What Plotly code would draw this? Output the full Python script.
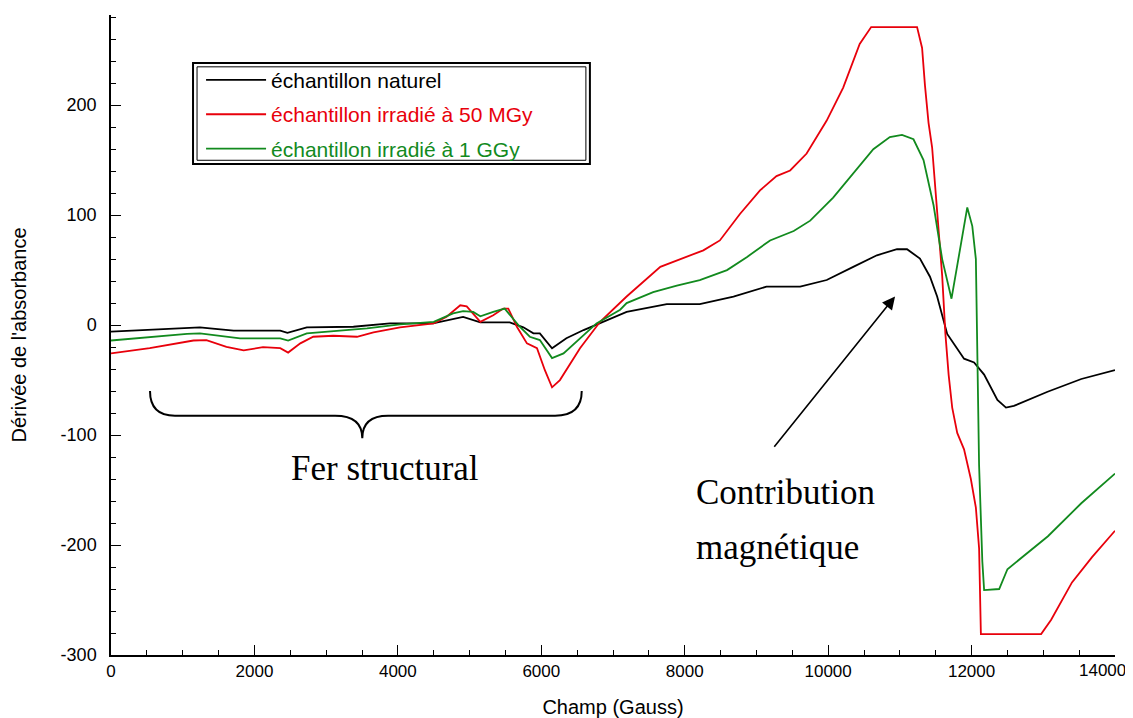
import plotly.graph_objects as go

# --- data ---
x_nat = [0, 680, 1240, 1380, 1710, 2360, 2460, 2730, 3380, 3890, 4490, 4910, 5150, 5560, 5750, 5890,
         5980, 6150, 6350, 6590, 6820, 7190, 7750, 8210, 8680, 9140, 9610, 9980, 10350, 10680, 10960,
         11100, 11280, 11420, 11520, 11590, 11660, 11895, 12035, 12175, 12360, 12480, 12590, 13060,
         13530, 14000]
y_nat = [-6, -4, -2, -3, -5, -5, -7, -2, -1.5, 1.5, 1.5, 7.5, 2.5, 2.5, -2, -7.5,
         -7.5, -21, -12, -4.5, 2, 12, 19, 19, 26, 35, 35, 41, 53, 63.5, 69,
         69, 60.5, 44, 26, 10, -8, -30.5, -34, -45, -68, -75, -73.5, -60.6,
         -49, -41]

x_50mgy = [0, 540, 1150, 1330, 1610, 1850, 2120, 2360, 2470, 2640, 2820, 3100, 3430, 3660, 4030,
           4500, 4680, 4870, 4960, 5150, 5330, 5470, 5540, 5660, 5800, 5940, 6050, 6150, 6260,
           6540, 6820, 7100, 7190, 7660, 7890, 8260, 8490, 8770, 9050, 9280, 9470, 9700, 9980,
           10210, 10440, 10600, 11240, 11310, 11350, 11400, 11450, 11490, 11545, 11590, 11635,
           11680, 11730, 11800, 11895, 11990, 12060, 12105, 12130, 12970, 13110, 13400, 13680, 14000]
y_50mgy = [-25.7, -21, -14, -13.6, -19.7, -23, -20, -21, -25, -16.6, -10.6, -9.7, -10.6, -6.7, -2,
           1.5, 7.6, 18, 17, 3, 9, 15, 15, -1.5, -16.6, -21, -41, -56.6, -50,
           -21, 3, 21, 26, 53, 59, 68, 77, 101, 122.5, 135.5, 140.6, 156, 186,
           216, 255.6, 271, 271, 252, 218, 184, 161.5, 128, 90, 45, -8,
           -45, -75, -98, -113, -140, -166, -203, -281, -281, -268, -234, -211, -187]

x_1ggy = [0, 540, 1060, 1240, 1800, 2360, 2470, 2730, 3100, 3570, 4030, 4500, 4770, 4910, 5050,
          5150, 5330, 5490, 5700, 5840, 5980, 6150, 6310, 6540, 6770, 7100, 7190, 7560, 7890, 8210,
          8590, 8870, 9190, 9520, 9750, 10070, 10350, 10630, 10860, 11030, 11190, 11330, 11470,
          11590, 11720, 11850, 11940, 12010, 12060, 12105, 12150, 12175, 12385, 12500, 13065,
          13530, 14000]
y_1ggy = [-14, -10.6, -8, -7.6, -12, -12, -14, -7.6, -5.4, -3, 0.6, 3, 10.6, 12.7, 12,
          8, 12, 15, -1.5, -10.6, -13.6, -30, -25.7, -12, 1.5, 14, 20, 30, 36, 41,
          50, 62, 77, 85.6, 95, 116, 137.6, 160, 171, 173, 169, 150, 109,
          60, 24, 75, 107, 90, 60, -128, -215, -241, -240, -222, -192,
          -162, -135]

names = ["échantillon naturel", "échantillon irradié à 50 MGy", "échantillon irradié à 1 GGy"]
colors = ["#000000", "#e8000b", "#128a1e"]

x_ticks = [0, 2000, 4000, 6000, 8000, 10000, 12000, 14000]
x_ticktext = ["0", "2000", "4000", "6000", "8000", "10000", "12000", ""]
x_last_label = "14000"   # drawn as annotation so it stays inside the page, as in the reference
y_ticks = [-300, -200, -100, 0, 100, 200]
y_ticktext = ["-300", "-200", "-100", "0", "100", "200"]

fig = go.Figure()
for xs, ys, nm, c in [(x_nat, y_nat, names[0], colors[0]),
                      (x_50mgy, y_50mgy, names[1], colors[1]),
                      (x_1ggy, y_1ggy, names[2], colors[2])]:
    fig.add_trace(go.Scatter(
        x=xs, y=ys, mode="lines", line=dict(color=c, width=1.8),
        name=f"<span style='color:{c}'>{nm}</span>", legendgroup=nm))

font_main = "Liberation Sans, Arial, sans-serif"
serif = "Liberation Serif, Times New Roman, serif"

fig.update_layout(
    width=1125, height=710,
    margin=dict(l=103, r=18, t=7, b=63),
    paper_bgcolor="white", plot_bgcolor="white",
    font=dict(family=font_main, size=17, color="black"),
    showlegend=True,
    legend=dict(x=0.0897, y=0.930, xanchor="left", yanchor="top",
                bgcolor="rgba(0,0,0,0)", borderwidth=0,
                font=dict(size=21, family=font_main),
                tracegroupgap=4, traceorder="grouped", itemwidth=60),
    xaxis=dict(range=[0, 14000], tickvals=x_ticks, ticktext=x_ticktext, ticks="inside", ticklen=10,
               tickcolor="black", showline=True, linecolor="black", linewidth=1.5,
               showgrid=False, zeroline=False, automargin=False, ticklabeloverflow="allow",
               minor=dict(dtick=500, ticks="inside", ticklen=5, tickcolor="black", showgrid=False),
               title=dict(text="Champ (Gauss)", font=dict(size=20), standoff=20)),
    yaxis=dict(range=[-300, 282], tickvals=y_ticks, ticktext=y_ticktext, ticks="inside", ticklen=10,
               tickcolor="black", showline=True, linecolor="black", linewidth=1.5,
               showgrid=False, zeroline=False, automargin=False, ticklabeloverflow="allow",
               ticklabelstandoff=9, tickfont=dict(size=18),
               minor=dict(dtick=20, ticks="inside", ticklen=5, tickcolor="black", showgrid=False),
               title=dict(text="Dérivée de l'absorbance", font=dict(size=20), standoff=33)),
)

fig.add_annotation(x=1.0, y=0, xref="paper", yref="paper", text=x_last_label, showarrow=False,
                   xanchor="right", yanchor="top", xshift=13, yshift=-4,
                   font=dict(family=font_main, size=17, color="black"))

# double border around legend
fig.add_shape(type="rect", xref="paper", yref="paper", x0=0.0817, x1=0.477, y0=0.767, y1=0.925,
              line=dict(color="black", width=2))
fig.add_shape(type="rect", xref="paper", yref="paper", x0=0.0857, x1=0.473, y0=0.773, y1=0.919,
              line=dict(color="black", width=1))

# curly brace under "Fer structural" region
brace = ("M 544,-60 Q 544,-82.5 892,-82.5 L 3124,-82.5 Q 3504,-82.5 3504,-103 "
         "Q 3504,-82.5 3863,-82.5 L 6192,-82.5 Q 6564,-82.5 6564,-60")
fig.add_shape(type="path", xref="x", yref="y", path=brace, line=dict(color="black", width=2))

fig.add_annotation(x=3820, y=-130, xref="x", yref="y", text="Fer structural", showarrow=False,
                   font=dict(family=serif, size=35, color="black"))
fig.add_annotation(x=8130, y=-152, xref="x", yref="y", text="Contribution", showarrow=False,
                   xanchor="left", font=dict(family=serif, size=35, color="black"))
fig.add_annotation(x=8130, y=-202, xref="x", yref="y", text="magnétique", showarrow=False,
                   xanchor="left", font=dict(family=serif, size=35, color="black"))
fig.add_annotation(x=10933, y=26, ax=9232, ay=-112, xref="x", yref="y", axref="x", ayref="y",
                   text="", showarrow=True, arrowhead=2, arrowsize=1.6, arrowwidth=1.6,
                   arrowcolor="black")

fig.write_html("out.html")
